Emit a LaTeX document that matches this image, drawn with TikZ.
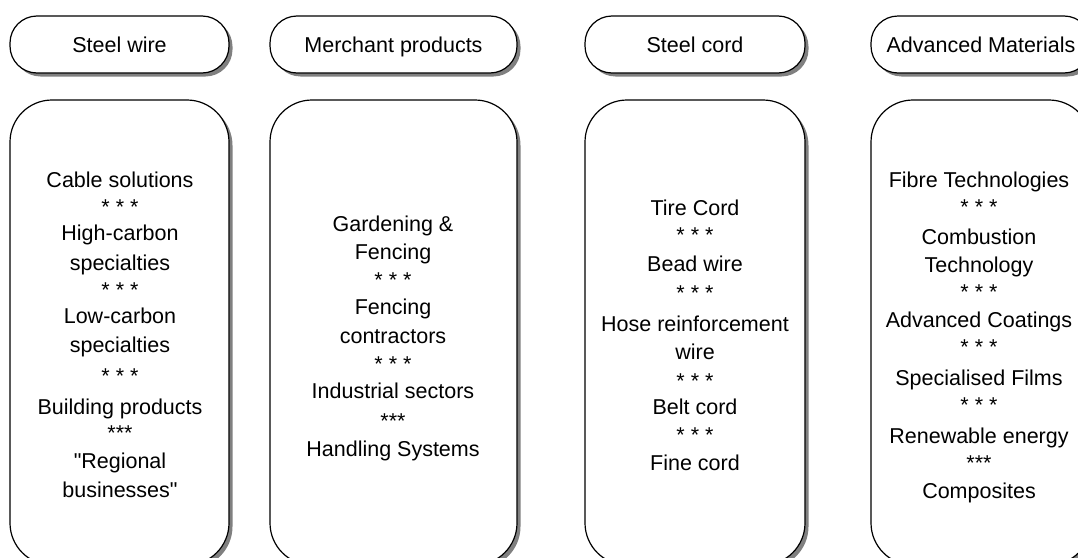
\documentclass[tikz,border=0pt]{standalone}
\usepackage{fontspec}
\newfontfamily\arialfont{Liberation Sans}
\usetikzlibrary{shadows}
\begin{document}
\begin{tikzpicture}[x=1pt,y=-1pt,
  box/.style={draw=black,line width=1.2pt,fill=white,rectangle,inner sep=0pt,
    drop shadow={shadow xshift=3.5pt,shadow yshift=-3.5pt,opacity=1,fill=black!50}},
  hdr/.style={box,rounded corners=27pt,minimum height=57pt,text height=20pt,text depth=5pt,
    font=\arialfont\fontsize{21.5}{26}\selectfont},
  big/.style={box,rounded corners=42pt,minimum height=465pt},
  txt/.style={anchor=base,inner sep=0pt,font=\arialfont\fontsize{21.5}{26}\selectfont}]
\useasboundingbox (0,0) rectangle (1078,557);
\clip (0,0) rectangle (1078,557);
% headers
\node[hdr,minimum width=219pt] (h1) at (119.5,44.5) {Steel wire};
\node[hdr,minimum width=247pt] (h2) at (393.5,44.5) {Merchant products};
\node[hdr,minimum width=220pt] (h3) at (695,44.5) {Steel cord};
\node[hdr,minimum width=220pt] (h4) at (981,44.5) {Advanced Materials};
% big boxes
\node[big,minimum width=219pt] (b1) at (119.5,332.5) {};
\node[big,minimum width=247pt] (b2) at (393.5,332.5) {};
\node[big,minimum width=220pt] (b3) at (695,332.5) {};
\node[big,minimum width=220pt] (b4) at (981,332.5) {};
% texts
\foreach \y/\t [count=\n] in {187/Cable solutions,214/* * *,240/High-carbon,270/specialties,297/* * *,323/Low-carbon,352/specialties,383/* * *,414/Building products,440/***,468/"Regional,497/businesses"}
  \node[txt] (a\n) at (120,\y) {\t};
\foreach \y/\t [count=\n] in {231/Gardening \&,259/Fencing,287/* * *,314/Fencing,343/contractors,371/* * *,398/Industrial sectors,428/***,456/Handling Systems}
  \node[txt] (m\n) at (393,\y) {\t};
\foreach \y/\t [count=\n] in {215/Tire Cord,242/* * *,271/Bead wire,300/* * *,331/Hose reinforcement,359/wire,388/* * *,414/Belt cord,442/* * *,470/Fine cord}
  \node[txt] (c\n) at (695,\y) {\t};
\foreach \y/\t [count=\n] in {187/Fibre Technologies,214/* * *,244/Combustion,272/Technology,299/* * *,327/Advanced Coatings,354/* * *,385/Specialised Films,412/* * *,443/Renewable energy,470/***,498/Composites}
  \node[txt] (d\n) at (979,\y) {\t};
\end{tikzpicture}
\end{document}
